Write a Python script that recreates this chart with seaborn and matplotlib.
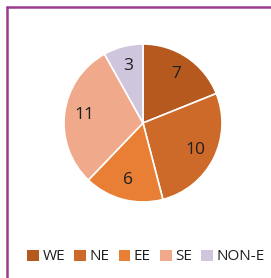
import matplotlib
matplotlib.use("Agg")
import numpy as np
import matplotlib.pyplot as plt
import seaborn as sns
from matplotlib.lines import Line2D
from matplotlib.patches import Patch

categories = ["WE", "NE", "EE", "SE", "NON-E"]
values = [7, 10, 6, 11, 3]
colors = ["#B5591F", "#CD6A2A", "#E97E35", "#F0AA8B", "#CFC6DD"]

sns.set_style("white")
plt.rcParams["font.family"] = ["Open Sans", "DejaVu Sans"]

fig = plt.figure(figsize=(2.71, 2.78), dpi=100)
fig.patch.set_facecolor("white")

# pie axes: center (143,123) px, radius ~79 px
cx, cy, r = 143, 123, 79
W, H = 271, 278
ax = fig.add_axes([(cx - r) / W, 1 - (cy + r) / H, 2 * r / W, 2 * r / H])
wedges, texts = ax.pie(
    values,
    colors=colors,
    startangle=90,
    counterclock=False,
    radius=1.0,
    wedgeprops=dict(edgecolor="white", linewidth=1.2),
)
for w, v in zip(wedges, values):
    ang = np.deg2rad((w.theta1 + w.theta2) / 2)
    ax.text(0.75 * np.cos(ang), 0.75 * np.sin(ang), str(v),
            ha="center", va="center", fontsize=12.5, color="#1F1F1F")
ax.set_xlim(-1, 1)
ax.set_ylim(-1, 1)
ax.set_aspect("equal")
ax.axis("off")

handles = [Patch(facecolor=c, edgecolor="none") for c in colors]
fig.legend(handles, categories, loc="center", bbox_to_anchor=(146 / W, 1 - 257 / H),
           ncol=5, frameon=False, fontsize=11, handlelength=0.75, handleheight=0.75,
           handletextpad=0.25, columnspacing=0.6, labelcolor="#1F1F1F",
           borderpad=0, borderaxespad=0)

# purple frame (top and left visible)
purple = "#9C3B8E"
fig.add_artist(Line2D([7 / W, 1.0], [1 - 7 / H, 1 - 7 / H], color=purple, lw=1.8,
                      transform=fig.transFigure))
fig.add_artist(Line2D([7 / W, 7 / W], [0.0, 1 - 7 / H], color=purple, lw=1.8,
                      transform=fig.transFigure))

fig.savefig("out.png", dpi=100, facecolor="white")
